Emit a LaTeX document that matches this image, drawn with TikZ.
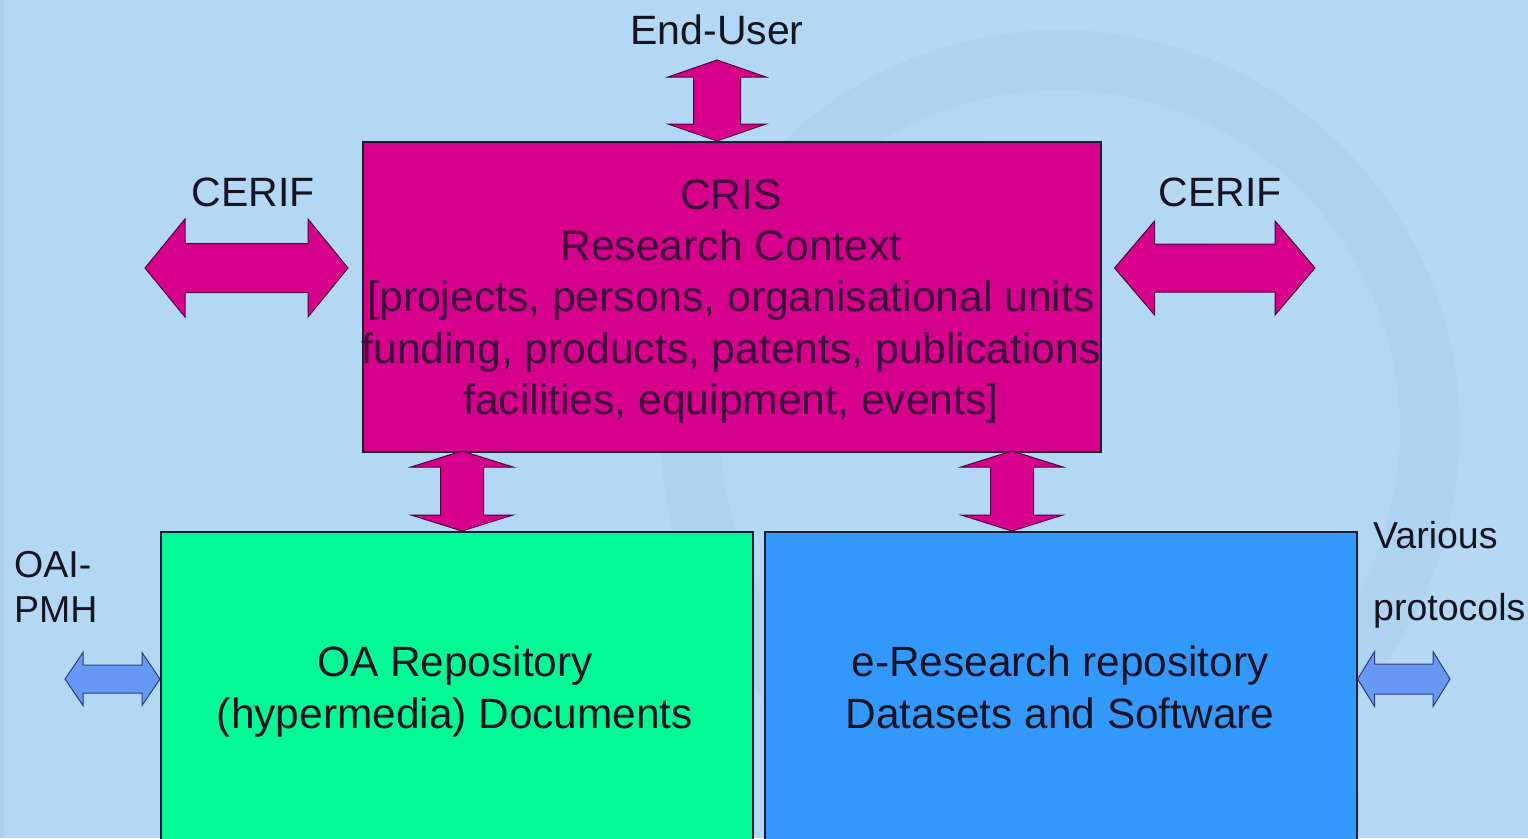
\documentclass[tikz,border=0pt]{standalone}
\usepackage{fontspec}
\setmainfont{Liberation Sans}
\usetikzlibrary{calc}
\definecolor{bgblue}{RGB}{178,216,245}
\definecolor{crismag}{RGB}{214,0,140}
\definecolor{oagreen}{RGB}{0,250,150}
\definecolor{erblue}{RGB}{51,153,255}
\definecolor{smallarrow}{RGB}{104,152,245}
\definecolor{smalledge}{RGB}{40,60,130}
\definecolor{magedge}{RGB}{80,0,60}
\definecolor{boxedge}{RGB}{30,30,50}
\definecolor{intext}{RGB}{60,10,60}
\definecolor{outtext}{RGB}{20,20,35}
\newcommand\vdarr[6]{% #1 style, #2 top tip, #3 bottom tip, #4 head length, #5 shaft half, #6 head half
  \filldraw[#1] let \p1=(#2), \p2=(#3) in
   (\x1,\y1) -- ({\x1+#6pt},{\y1-#4pt}) -- ({\x1+#5pt},{\y1-#4pt}) -- ({\x1+#5pt},{\y2+#4pt})
   -- ({\x1+#6pt},{\y2+#4pt}) -- (\x1,\y2) -- ({\x1-#6pt},{\y2+#4pt}) -- ({\x1-#5pt},{\y2+#4pt})
   -- ({\x1-#5pt},{\y1-#4pt}) -- ({\x1-#6pt},{\y1-#4pt}) -- cycle;}
\newcommand\hdarr[6]{% #1 style, #2 left tip, #3 right tip, #4 head length, #5 shaft half, #6 head half
  \filldraw[#1] let \p1=(#2), \p2=(#3) in
   (\x1,\y1) -- ({\x1+#4pt},{\y1+#6pt}) -- ({\x1+#4pt},{\y1+#5pt}) -- ({\x2-#4pt},{\y1+#5pt})
   -- ({\x2-#4pt},{\y1+#6pt}) -- (\x2,\y1) -- ({\x2-#4pt},{\y1-#6pt}) -- ({\x2-#4pt},{\y1-#5pt})
   -- ({\x1+#4pt},{\y1-#5pt}) -- ({\x1+#4pt},{\y1-#6pt}) -- cycle;}
\begin{document}
\begin{tikzpicture}[x=1pt,y=-1pt,
  box/.style={draw=boxedge, line width=1.6pt, inner sep=0pt},
  bigarrow/.style={fill=crismag, draw=magedge, line width=1pt, line join=miter},
  smallarr/.style={fill=smallarrow, draw=smalledge, line width=1pt, line join=miter},
  lbl/.style={font=\fontsize{41}{51}\selectfont, text=outtext, inner sep=0pt},
  sidelbl/.style={font=\fontsize{37.5}{44}\selectfont, text=outtext, inner sep=0pt, anchor=base west},
  intxt/.style={font=\fontsize{42.6}{51.3}\selectfont, text=intext, inner sep=0pt, align=center},
  boxtxt/.style={font=\fontsize{42.4}{52}\selectfont, text=outtext, inner sep=0pt, align=center}]
\useasboundingbox (0,0) rectangle (1528,838);
\clip (0,0) rectangle (1528,838);
% background
\fill[bgblue] (0,0) rectangle (1528,838);
\fill[white, opacity=0.05, even odd rule] (1060,430) circle (470) (1060,430) circle (400);
\fill[white, opacity=0.04, even odd rule] (1060,430) circle (300) (1060,430) circle (240);
\fill[black!40!bgblue, opacity=0.04, even odd rule] (1060,430) circle (400) (1060,430) circle (340);
\fill[black!40!bgblue, opacity=0.08] (0,0) rectangle (4,838);

% boxes
\node[box, fill=crismag, minimum width=738pt, minimum height=310pt, anchor=north west] (cris) at (362,141) {};
\node[box, fill=oagreen, minimum width=592pt, minimum height=340pt, anchor=north west] (oa) at (160,531) {};
\node[box, fill=erblue, minimum width=592pt, minimum height=340pt, anchor=north west] (er) at (764,531) {};

% texts
\node[intxt] (cristxt) at (731,301.5) {CRIS\\Research Context\\{}{[}projects, persons, organisational units\\funding, products, patents, publications\\facilities, equipment, events{]}};
\node[boxtxt] (oatxt) at (455,692) {\strut OA Repository\\\strut (hypermedia) Documents};
\node[boxtxt] (ertxt) at (1060,692) {\strut e-Research repository\\\strut Datasets and Software};
\node[lbl] (enduser) at (717,30) {End-User};
\node[lbl] (cerifl) at (253,192) {CERIF};
\node[lbl] (cerifr) at (1220,192) {CERIF};
\node[sidelbl] (oai1) at (14,577) {OAI-};
\node[sidelbl] (oai2) at (14,622) {PMH};
\node[sidelbl] (var1) at (1373,548) {Various};
\node[sidelbl] (var2) at (1373,620) {protocols};

% arrow end points
\coordinate (eutip) at (717,60);
\coordinate (cltip) at (145,268);
\coordinate (crtip) at (1315,268);
\coordinate (oatip) at (65,679);
\coordinate (vartip) at (1450,679);
\coordinate (l1) at (462,451);
\coordinate (l2) at (1012,451);

% arrows
\vdarr{bigarrow}{eutip}{eutip |- cris.north}{17}{23.5}{49}
\hdarr{bigarrow}{cltip}{$(cris.west |- cltip)+(-14,0)$}{40}{24.5}{49}
\hdarr{bigarrow}{$(cris.east |- crtip)+(13,0)$}{crtip}{40}{24}{47}
\vdarr{bigarrow}{l1}{l1 |- oa.north}{16}{21.5}{51}
\vdarr{bigarrow}{l2}{l2 |- er.north}{16}{21.5}{51}
\hdarr{smallarr}{oatip}{oa.west |- oatip}{18}{14}{26.5}
\hdarr{smallarr}{er.east |- vartip}{vartip}{17}{15}{27.5}
\end{tikzpicture}
\end{document}
